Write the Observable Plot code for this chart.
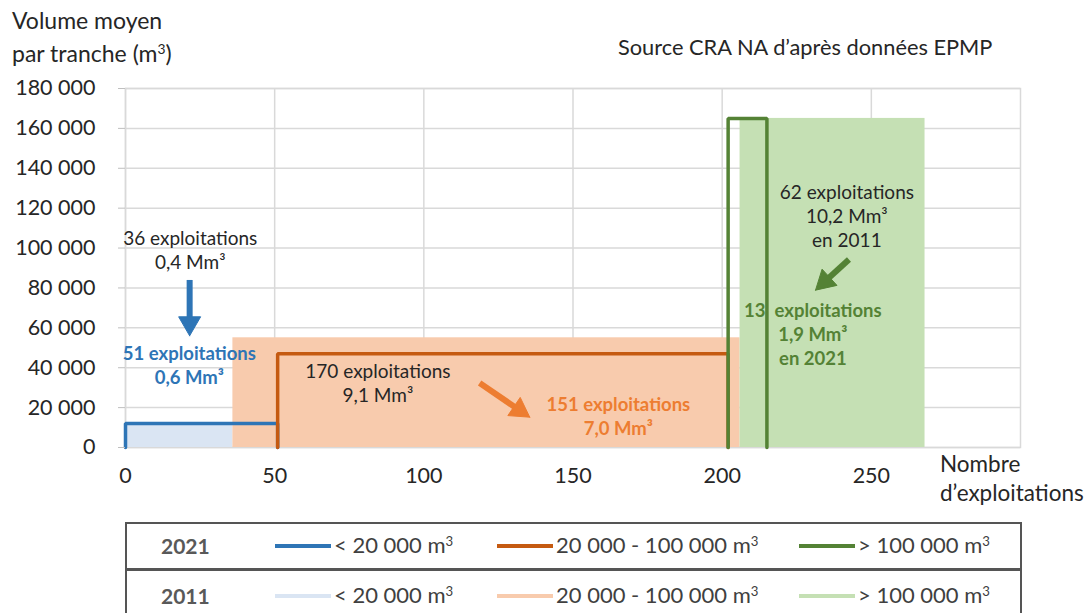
<!DOCTYPE html>
<html><head><meta charset="utf-8">
<script src="https://cdn.jsdelivr.net/npm/d3@7"></script>
<script src="https://cdn.jsdelivr.net/npm/@observablehq/plot@0.6"></script>
<style>
body{margin:0;background:#fff;font-family:Lato,sans-serif;color:#262626}
#wrap{position:relative;width:1086px;height:613px;overflow:hidden}
.abs{position:absolute;white-space:nowrap}
sup{font-size:0.6em;vertical-align:0.55em;line-height:0}
.box{position:absolute;left:125px;width:893px;border:2px solid #555;box-sizing:content-box}
.yr{position:absolute;left:34px;font-weight:bold;color:#595959;font-size:21px}
.sw{position:absolute;height:4px;width:56px}
.lt{position:absolute;font-size:22px;color:#404040;white-space:nowrap}
</style></head><body><div id="wrap"></div>
<script>
// ---- data ----
const classes = ["< 20 000 m³", "20 000 - 100 000 m³", "> 100 000 m³"];
const farms2011 = [36, 170, 62];
const volume2011 = [12000, 55000, 165000];
const farms2021 = [51, 151, 13];
const volume2021 = [12000, 47000, 165000];
const xTicks = [0, 50, 100, 150, 200, 250];
const yTicks = [0, 20000, 40000, 60000, 80000, 100000, 120000, 140000, 160000, 180000];
const noteTexts = [
  "36 exploitations\n0,4 Mm³",
  "51 exploitations\n0,6 Mm³",
  "170 exploitations\n9,1 Mm³",
  "151 exploitations\n7,0 Mm³",
  "62 exploitations\n10,2 Mm³\nen 2011",
  "13  exploitations\n1,9 Mm³\nen 2021"
];

// ---- layout / styles ----
const colors2021 = ["#2e75b6", "#c55a11", "#548235"];
const colors2011 = ["#dae5f3", "#f8cbad", "#c5e0b4"];
const W = 1086, H = 515, ML = 125, MR = 66, MT = 88, MB = 68;
const xDomain = [0, 300], yDomain = [0, 180000];
const notePos = [
  {x: 21.7, y: 99500, fill: "#262626", bold: false},
  {x: 21.4, y: 41700, fill: "#2e75b6", bold: true},
  {x: 84.6, y: 32700, fill: "#262626", bold: false},
  {x: 165.2, y: 16100, fill: "#ed7d31", bold: true},
  {x: 241.8, y: 116600, fill: "#262626", bold: false},
  {x: 230.4, y: 57300, fill: "#548235", bold: true}
];
const arrowPos = [
  {x1: 21.5, y1: 84000, x2: 21.5, y2: 56000, color: "#2e75b6"},
  {x1: 118.7, y1: 32300, x2: 135.5, y2: 15200, color: "#ed7d31"},
  {x1: 242.5, y1: 94300, x2: 231.3, y2: 78900, color: "#548235"}
];

// ---- derived tables ----
function blocks(farms, vols) {
  let x = 0;
  return farms.map((n, i) => { const b = {i, cls: classes[i], x1: x, x2: x + n, v: vols[i]}; x += n; return b; });
}
const b2011 = blocks(farms2011, volume2011);
const b2021 = blocks(farms2021, volume2021);
const outline2021 = b2021.flatMap(b => [
  {i: b.i, x: b.x1, y: 0}, {i: b.i, x: b.x1, y: b.v}, {i: b.i, x: b.x2, y: b.v}, {i: b.i, x: b.x2, y: 0}
]);
const notes = noteTexts.map((t, k) => ({text: t, ...notePos[k]}));

// arrows: shaft + filled head computed in pixel space through scales mirroring Plot's
const sx = d3.scaleLinear(xDomain, [ML, W - MR]);
const sy = d3.scaleLinear(yDomain, [H - MB, MT]);
const headL = 19, headHalf = 11;
const shafts = [], heads = [];
arrowPos.forEach((a, k) => {
  const p1 = [sx(a.x1), sy(a.y1)], p2 = [sx(a.x2), sy(a.y2)];
  const dx = p2[0] - p1[0], dy = p2[1] - p1[1], len = Math.hypot(dx, dy);
  const u = [dx / len, dy / len], n = [-u[1], u[0]];
  const base = [p2[0] - headL * u[0], p2[1] - headL * u[1]];
  const inv = p => ({x: sx.invert(p[0]), y: sy.invert(p[1]), k, color: a.color});
  const sEnd = [base[0] + 3 * u[0], base[1] + 3 * u[1]];
  shafts.push({x1: a.x1, y1: a.y1, x2: sx.invert(sEnd[0]), y2: sy.invert(sEnd[1]), color: a.color});
  heads.push(inv(p2), inv([base[0] + headHalf * n[0], base[1] + headHalf * n[1]]), inv([base[0] - headHalf * n[0], base[1] - headHalf * n[1]]), inv(p2));
});

const fmt = d => d3.format(",")(d).replace(/,/g, " ");

const plot = Plot.plot({
  width: W, height: H,
  marginLeft: ML, marginRight: MR, marginTop: MT, marginBottom: MB,
  style: {fontFamily: "Lato, sans-serif", fontSize: "21px", background: "transparent", overflow: "visible"},
  x: {domain: xDomain, label: null},
  y: {domain: yDomain, label: null},
  color: {type: "identity"},
  marks: [
    Plot.gridY(yTicks, {stroke: "#d9d9d9", strokeOpacity: 1, strokeWidth: 1.5}),
    Plot.gridX(xTicks, {stroke: "#d9d9d9", strokeOpacity: 1, strokeWidth: 1.5}),
    Plot.frame({stroke: "#d9d9d9", strokeWidth: 1.5}),
    Plot.rect(b2011, {x1: "x1", x2: "x2", y1: 0, y2: "v", fill: d => colors2011[d.i]}),
    Plot.line(outline2021, {x: "x", y: "y", z: "i", stroke: d => colors2021[d.i], strokeWidth: 3.5, strokeLinejoin: "miter"}),
    Plot.axisY(yTicks, {tickSize: 7, tickPadding: 23, tickFormat: fmt, stroke: "#bfbfbf", fill: "#262626", fontSize: 21.5, label: null}),
    Plot.axisX(xTicks, {tickSize: 0, tickPadding: 20, fill: "#262626", fontSize: 21.5, label: null}),
    Plot.link(shafts, {x1: "x1", y1: "y1", x2: "x2", y2: "y2", stroke: "color", strokeWidth: 6}),
    Plot.line(heads, {x: "x", y: "y", z: "k", fill: "color", stroke: "color", strokeWidth: 1}),
    Plot.text(notes.filter(d => !d.bold), {x: "x", y: "y", text: "text", fill: "fill", fontSize: 19, lineHeight: 1.27, textAnchor: "middle"}),
    Plot.text(notes.filter(d => d.bold), {x: "x", y: "y", text: "text", fill: "fill", fontWeight: "bold", fontSize: 18.5, lineHeight: 1.3, textAnchor: "middle"})
  ]
});

const wrap = document.getElementById("wrap");
wrap.appendChild(plot);
plot.style.position = "absolute"; plot.style.left = "0px"; plot.style.top = "0px";

function addHTML(html) { wrap.insertAdjacentHTML("beforeend", html); }
addHTML(`<div class="abs" style="left:12px;top:4px;font-size:23px;line-height:33px">Volume moyen<br>par tranche (m<sup>3</sup>)</div>`);
addHTML(`<div class="abs" style="left:618px;top:33px;font-size:21.8px">Source CRA NA d’après données EPMP</div>`);
addHTML(`<div class="abs" style="left:940px;top:449px;font-size:22.5px;line-height:29px">Nombre<br>d’exploitations</div>`);

// legend
const legendRows = [
  {year: "2021", colors: colors2021, top: 522, pad: 0},
  {year: "2011", colors: colors2011, top: 569, pad: 3}
];
const swatchX = [148, 370, 672];
legendRows.forEach(r => {
  let inner = `<div class="yr" style="top:${9 + r.pad}px">${r.year}</div>`;
  classes.forEach((c, i) => {
    inner += `<div class="sw" style="left:${swatchX[i]}px;top:${20 + r.pad}px;background:${r.colors[i]}"></div>`;
    inner += `<div class="lt" style="left:${swatchX[i] + 59}px;top:${7 + r.pad}px">${c.replace("³", "<sup>3</sup>")}</div>`;
  });
  addHTML(`<div class="box" style="top:${r.top}px;height:44px">${inner}</div>`);
});
</script></body></html>
